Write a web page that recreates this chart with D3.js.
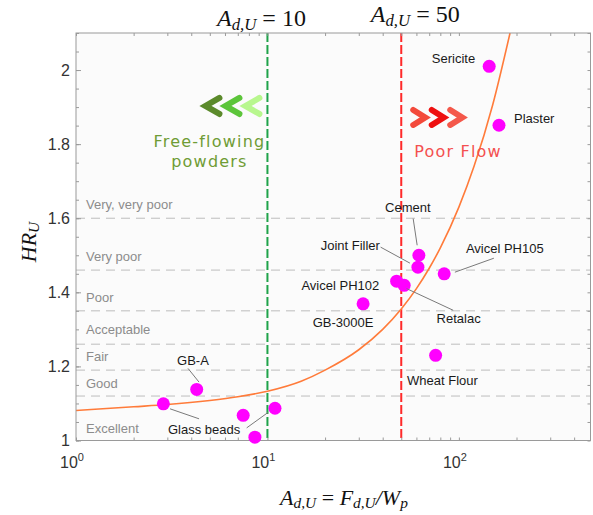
<!DOCTYPE html>
<html>
<head>
<meta charset="utf-8">
<script src="https://cdn.jsdelivr.net/npm/d3@7"></script>
<style>
  html, body { margin: 0; padding: 0; background: #ffffff; }
  svg { display: block; font-family: "Liberation Sans", Arial, Helvetica, sans-serif; }
</style>
</head>
<body>
<div id="chart"></div>
<script>
// ---------------- data ----------------
const materials = ["Sericite", "Plaster", "Cement", "Joint Filler", "Avicel PH105",
  "Avicel PH102", "Retalac", "GB-3000E", "Wheat Flour", "GB-A",
  "Glass bead 1", "Glass bead 2", "Glass bead 3", "Glass bead 4"];
const adValues = [144, 162, 61.8, 61.1, 83.8, 47.3, 51.8, 31.6, 75.6, 4.27, 2.86, 7.47, 8.6, 10.95];
const hrValues = [2.01, 1.851, 1.50, 1.468, 1.45, 1.43, 1.419, 1.369, 1.23, 1.138, 1.099, 1.068, 1.009, 1.087];

// fitted trend line
const fitAd = [1, 2, 3, 5, 7, 10, 15, 20, 30, 40, 50, 60, 70, 80, 100, 120, 150, 185];
const fitHR = [1.081, 1.091, 1.097, 1.108, 1.118, 1.133, 1.16, 1.19, 1.245, 1.30, 1.355, 1.41, 1.465, 1.52, 1.63, 1.74, 1.905, 2.10];

// flowability classes (Hausner ratio thresholds)
const classNames = ["Excellent", "Good", "Fair", "Acceptable", "Poor", "Very poor", "Very, very poor"];
const classBounds = [1.12, 1.19, 1.26, 1.35, 1.46, 1.60];
const classLabelHR = [1.032, 1.155, 1.228, 1.30, 1.385, 1.497, 1.638];

const thresholds = [10, 50];
const yTickLabels = [1, 1.2, 1.4, 1.6, 1.8, 2];
const xTickExponents = [0, 1, 2];

// ---------------- layout ----------------
const W = 593, H = 515;
const M = { left: 76, right: 2.5, top: 33, bottom: 74.5 };
const iw = W - M.left - M.right, ih = H - M.top - M.bottom;

const svg = d3.select("#chart").append("svg").attr("width", W).attr("height", H);
const g = svg.append("g").attr("transform", `translate(${M.left},${M.top})`);

const x = d3.scaleLog().domain([1, 487]).range([0, iw]);
const y = d3.scaleLinear().domain([1, 2.1]).range([ih, 0]);

g.append("rect").attr("width", iw).attr("height", ih).attr("fill", "#fbfbfb");

g.append("defs").append("clipPath").attr("id", "clip")
  .append("rect").attr("width", iw).attr("height", ih);

// class boundary dashed lines
g.selectAll(".bound").data(classBounds).join("line")
  .attr("x1", 0).attr("x2", iw)
  .attr("y1", d => y(d)).attr("y2", d => y(d))
  .attr("stroke", "#bdbdbd").attr("stroke-width", 1).attr("stroke-dasharray", "9,6");

g.selectAll(".cls").data(classNames).join("text")
  .attr("x", 10).attr("y", (d, i) => y(classLabelHR[i]) + 4.5)
  .attr("font-size", 13).attr("fill", "#8c8c8c").text(d => d);

// threshold vertical lines
const thrColors = ["#1fa34a", "#ff2a2a"];
g.selectAll(".thr").data(thresholds).join("line")
  .attr("x1", d => x(d)).attr("x2", d => x(d))
  .attr("y1", 0).attr("y2", ih)
  .attr("stroke", (d, i) => thrColors[i]).attr("stroke-width", 2).attr("stroke-dasharray", "9,3");

// fit curve
const fitPts = fitAd.map((a, i) => [a, fitHR[i]]);
g.append("path").datum(fitPts)
  .attr("clip-path", "url(#clip)")
  .attr("fill", "none").attr("stroke", "#ff7b3a").attr("stroke-width", 1.6)
  .attr("d", d3.line().x(d => x(d[0])).y(d => y(d[1])).curve(d3.curveMonotoneX));

// ---------------- axes ----------------
const axisColor = "#9a9a9a";
function styleAxis(sel) {
  sel.select(".domain").remove();
  sel.selectAll(".tick line").attr("stroke", axisColor);
  sel.attr("font-family", null);
}
const yMinor = d3.range(1, 2.101, 0.05).map(v => +v.toFixed(2));
g.append("g").call(d3.axisLeft(y).tickValues(yMinor).tickSizeInner(-3).tickSizeOuter(0).tickFormat("")).call(styleAxis);
g.append("g").attr("transform", `translate(${iw},0)`)
  .call(d3.axisRight(y).tickValues(yMinor).tickSizeInner(-3).tickSizeOuter(0).tickFormat("")).call(styleAxis);
const yMaj = g.append("g").call(d3.axisLeft(y).tickValues(yTickLabels).tickSizeInner(-5).tickSizeOuter(0)
  .tickPadding(6).tickFormat(d3.format("~g"))).call(styleAxis);
yMaj.attr("font-size", null);
yMaj.selectAll("text").attr("font-size", 16).attr("fill", "#333");

const xMinor = [];
[1, 10, 100].forEach(b => d3.range(1, 10).forEach(k => { if (b * k <= 487) xMinor.push(b * k); }));
g.append("g").attr("transform", `translate(0,${ih})`)
  .call(d3.axisBottom(x).tickValues(xMinor).tickSizeInner(-3).tickSizeOuter(0).tickFormat("")).call(styleAxis);
g.append("g")
  .call(d3.axisTop(x).tickValues(xMinor).tickSizeInner(-3).tickSizeOuter(0).tickFormat("")).call(styleAxis);

const xl = g.selectAll(".xl").data(xTickExponents).join("text")
  .attr("x", d => x(Math.pow(10, d)) - 4).attr("y", ih + 27)
  .attr("text-anchor", "middle").attr("font-size", 16).attr("fill", "#333");
xl.append("tspan").text("10");
xl.append("tspan").attr("dy", -7).attr("font-size", 11).text(d => d);

g.append("rect").attr("width", iw).attr("height", ih)
  .attr("fill", "none").attr("stroke", axisColor).attr("stroke-width", 1);

// ---------------- annotations ----------------
const serif = "'Liberation Serif', 'DejaVu Serif', serif";
function mathA(sel, rhs) {
  sel.style("font-family", serif).attr("fill", "#111");
  sel.append("tspan").attr("font-style", "italic").text("A");
  sel.append("tspan").attr("font-style", "italic").attr("font-size", "0.7em").attr("dy", "0.22em").text("d,U");
  sel.append("tspan").attr("dy", "-0.154em").text("\u2009=\u200910");
}
function mathB(sel, rhs) {
  sel.style("font-family", serif).attr("fill", "#111");
  sel.append("tspan").attr("font-style", "italic").text("A");
  sel.append("tspan").attr("font-style", "italic").attr("font-size", "0.7em").attr("dy", "0.22em").text("d,U");
  sel.append("tspan").attr("dy", "-0.154em").text(" = " + rhs);
}
g.append("text").attr("x", x(thresholds[0]) - 6).attr("y", -7).attr("text-anchor", "middle")
  .attr("font-size", 24).call(mathB, String(thresholds[0]));
g.append("text").attr("x", x(thresholds[1]) + 14).attr("y", -11).attr("text-anchor", "middle")
  .attr("font-size", 24).call(mathB, String(thresholds[1]));

// x axis title
const xt = svg.append("text").attr("x", 344).attr("y", 505).attr("text-anchor", "middle")
  .attr("font-size", 22).style("font-family", serif).attr("fill", "#111");
xt.append("tspan").attr("font-style", "italic").text("A");
xt.append("tspan").attr("font-style", "italic").attr("font-size", "0.7em").attr("dy", "0.22em").text("d,U");
xt.append("tspan").attr("dy", "-0.154em").text(" = ");
xt.append("tspan").attr("font-style", "italic").text("F");
xt.append("tspan").attr("font-style", "italic").attr("font-size", "0.7em").attr("dy", "0.22em").text("d,U");
xt.append("tspan").attr("dy", "-0.154em").attr("font-style", "italic").text("/W");
xt.append("tspan").attr("font-style", "italic").attr("font-size", "0.7em").attr("dy", "0.22em").text("p");

// y axis title
const yt = svg.append("text").attr("transform", "translate(36,242) rotate(-90)")
  .attr("text-anchor", "middle").attr("font-size", 22).style("font-family", serif).attr("fill", "#111");
yt.append("tspan").attr("font-style", "italic").text("HR");
yt.append("tspan").attr("font-style", "italic").attr("font-size", "0.7em").attr("dy", "0.22em").text("U");

// chevrons
const greenChev = ["#5b8a2b", "#5cc53a", "#b8f78e"];
const redChev = ["#f34a3b", "#ee1010", "#f4584a"];
const gx0 = x(thresholds[0]) - 62, gy0 = y(1.903);
g.selectAll(".gch").data(greenChev).join("path")
  .attr("d", (c, i) => { const x0 = gx0 + i * 20; return `M${x0 + 14},${gy0 - 8} L${x0},${gy0} L${x0 + 14},${gy0 + 8}`; })
  .attr("fill", "none").attr("stroke", c => c).attr("stroke-width", 6)
  .attr("stroke-linecap", "round").attr("stroke-linejoin", "miter");
const rx0 = x(thresholds[1]) + 12, ry0 = y(1.872);
g.selectAll(".rch").data(redChev).join("path")
  .attr("d", (c, i) => { const x0 = rx0 + i * 18.5; return `M${x0},${ry0 - 7.5} L${x0 + 12},${ry0} L${x0},${ry0 + 7.5}`; })
  .attr("fill", "none").attr("stroke", c => c).attr("stroke-width", 6)
  .attr("stroke-linecap", "round").attr("stroke-linejoin", "miter");

const hand = "'DejaVu Sans', 'Noto Sans', sans-serif";
g.append("text").attr("x", gx0 + 4).attr("y", 114).attr("text-anchor", "middle")
  .style("font-family", hand).style("letter-spacing", "1.2px").attr("font-size", 16).attr("fill", "#6f9c35").text("Free-flowing");
g.append("text").attr("x", gx0 + 4).attr("y", 134).attr("text-anchor", "middle")
  .style("font-family", hand).style("letter-spacing", "1.2px").attr("font-size", 16).attr("fill", "#6f9c35").text("powders");
g.append("text").attr("x", rx0 + 1).attr("y", 124).attr("text-anchor", "start")
  .style("font-family", hand).style("letter-spacing", "1.2px").attr("font-size", 16).attr("fill", "#f45050").text("Poor Flow");

// points
const pts = materials.map((m, i) => ({ name: m, a: adValues[i], hr: hrValues[i] }));
g.selectAll(".pt").data(pts).join("circle")
  .attr("cx", d => x(d.a)).attr("cy", d => y(d.hr)).attr("r", 6.5).attr("fill", "#ff00ff");

// labels: [material index, text, anchor, dx, dy, leaders relative to point]
const labelLayout = [
  [0, "Sericite", "end", -14, -3, []],
  [1, "Plaster", "start", 15, -2.5, []],
  [2, "Cement", "middle", -11, -43.5, [[-5.7, -36.7, -1.7, -10]]],
  [3, "Joint Filler", "end", -38, -17, [[-37.3, -20, -8, -4]]],
  [4, "Avicel PH105", "start", 21.7, -21, [[49.7, -15.6, 10.7, -1.6]]],
  [5, "Avicel PH102", "end", -17.4, 8.8, []],
  [6, "Retalac", "start", 32.4, 37.5, [[2.4, 3.3, 49, 25]]],
  [7, "GB-3000E", "middle", -20, 22.7, []],
  [8, "Wheat Flour", "middle", 6.8, 30, []],
  [9, "GB-A", "middle", -3.7, -24.5, [[-8.7, -21, 2.3, -7.3]]],
  [10, "Glass beads", "middle", 40.7, 30.5, [[6.7, 5, 35.7, 15]]],
  [13, null, null, 0, 0, [[-28.3, 19.6, -6.7, 4]]]
];
labelLayout.forEach(([idx, txt, anchor, dx, dy, leaders]) => {
  const p = pts[idx], px = x(p.a), py = y(p.hr);
  leaders.forEach(l => g.append("line")
    .attr("x1", px + l[0]).attr("y1", py + l[1]).attr("x2", px + l[2]).attr("y2", py + l[3])
    .attr("stroke", "#7a7a7a").attr("stroke-width", 1));
  if (txt) g.append("text").attr("x", px + dx).attr("y", py + dy).attr("text-anchor", anchor)
    .attr("font-size", 13).attr("fill", "#1a1a1a").text(txt);
});
</script>
</body>
</html>
